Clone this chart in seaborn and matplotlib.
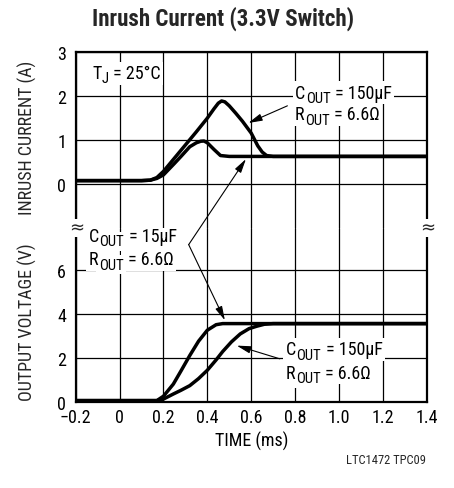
import matplotlib
matplotlib.use("Agg")
import matplotlib.pyplot as plt
import seaborn as sns
import pandas as pd
from matplotlib import font_manager

# ---- data ----
t_cur_15 = [-0.2, 0.10, 0.14, 0.17, 0.20, 0.25, 0.28, 0.32, 0.35, 0.37, 0.385, 0.40, 0.43, 0.46, 0.50, 1.40]
i_cur_15 = [0.07, 0.07, 0.08, 0.12, 0.20, 0.46, 0.62, 0.84, 0.93, 0.965, 0.97, 0.93, 0.78, 0.64, 0.62, 0.62]
t_cur_150 = [-0.2, 0.10, 0.14, 0.17, 0.20, 0.25, 0.30, 0.35, 0.40, 0.43, 0.45, 0.465, 0.48, 0.50, 0.53, 0.56, 0.60, 0.63, 0.65, 0.67, 0.70, 1.40]
i_cur_150 = [0.07, 0.07, 0.08, 0.14, 0.28, 0.58, 0.88, 1.18, 1.49, 1.70, 1.83, 1.88, 1.86, 1.77, 1.60, 1.42, 1.15, 0.86, 0.72, 0.64, 0.62, 0.62]
t_v_15 = [-0.2, 0.17, 0.20, 0.245, 0.28, 0.32, 0.36, 0.40, 0.44, 0.47, 0.50, 1.40]
v_v_15 = [0.05, 0.05, 0.25, 0.80, 1.40, 2.10, 2.75, 3.25, 3.50, 3.55, 3.55, 3.55]
t_v_150 = [-0.2, 0.17, 0.20, 0.245, 0.28, 0.32, 0.36, 0.40, 0.44, 0.47, 0.51, 0.55, 0.59, 0.625, 0.66, 0.70, 1.40]
v_v_150 = [0.05, 0.05, 0.12, 0.35, 0.52, 0.73, 1.05, 1.43, 1.90, 2.28, 2.72, 3.08, 3.32, 3.43, 3.52, 3.55, 3.55]
x_ticks = [-0.2, 0.0, 0.2, 0.4, 0.6, 0.8, 1.0, 1.2, 1.4]
x_ticklabels = ["\u22120.2", "0", "0.2", "0.4", "0.6", "0.8", "1.0", "1.2", "1.4"]
i_ticks = [0, 1, 2, 3]
v_ticks = [0, 2, 4, 6]

sns.set_theme(style="white")
names = {f.name for f in font_manager.fontManager.ttflist}
PREF = ["Roboto Condensed", "Liberation Sans Narrow", "Archivo Narrow", "PT Sans Narrow",
        "Fira Sans Condensed", "IBM Plex Sans Condensed", "Barlow Semi Condensed",
        "Encode Sans Condensed", "Open Sans Condensed"]
FONT = next((n for n in PREF if n in names), "Liberation Sans")
NARROW = FONT != "Liberation Sans"
plt.rcParams["font.family"] = [FONT, "DejaVu Sans"]
K = 1.0 if NARROW else 0.8

W, H = 454, 489
fig = plt.figure(figsize=(W / 100, H / 100), dpi=100)
fig.patch.set_facecolor("white")

L, R = 75.7, 426.7
TOP, BRK, BOT = 52.7, 228.7, 402.7
ax_bot = fig.add_axes([L / W, 1 - BOT / H, (R - L) / W, (BOT - BRK) / H])
ax_top = fig.add_axes([L / W, 1 - BRK / H, (R - L) / W, (BRK - TOP) / H])

LW = 2.5
df_c15 = pd.DataFrame({"t": t_cur_15, "v": i_cur_15})
df_c150 = pd.DataFrame({"t": t_cur_150, "v": i_cur_150})
df_v15 = pd.DataFrame({"t": t_v_15, "v": v_v_15})
df_v150 = pd.DataFrame({"t": t_v_150, "v": v_v_150})
for ax, dfs in ((ax_top, (df_c15, df_c150)), (ax_bot, (df_v15, df_v150))):
    for d in dfs:
        sns.lineplot(data=d, x="t", y="v", ax=ax, color="black", lw=LW,
                     sort=False, estimator=None, solid_capstyle="butt",
                     solid_joinstyle="round", zorder=3)

FS = 13 * K
ax_top.set_ylim(-1.0, 3.0)
ax_bot.set_ylim(0, 174 / 22)
for ax in (ax_top, ax_bot):
    ax.set_xlim(-0.2, 1.4)
    ax.patch.set_visible(False)
    ax.set_xlabel("")
    ax.set_ylabel("")
    ax.grid(True, color="black", lw=0.9)
    ax.tick_params(length=0, labelsize=FS, colors="black", pad=7)
    for s in ax.spines.values():
        s.set_color("black")
        s.set_linewidth(1.6)
ax_top.set_yticks(i_ticks)
ax_top.set_yticklabels([str(v) for v in i_ticks])
ax_bot.set_yticks(v_ticks)
ax_bot.set_yticklabels([str(v) for v in v_ticks])
ax_top.set_xticks(x_ticks)
ax_top.set_xticklabels([])
ax_bot.set_xticks(x_ticks)
ax_bot.set_xticklabels(x_ticklabels)
ax_top.spines["bottom"].set_visible(False)
ax_bot.spines["top"].set_visible(False)
ax_bot.tick_params(axis="x", pad=4.2)

# axis labels, title, footer
ax_bot.set_xlabel("TIME (ms)", fontsize=FS, color="black", labelpad=4)
fig.text(27 / W, 1 - 138 / H, "INRUSH CURRENT (A)", rotation=90, ha="center", va="center",
         fontsize=FS)
fig.text(27 / W, 1 - 322 / H, "OUTPUT VOLTAGE (V)", rotation=90, ha="center", va="center",
         fontsize=FS)
fig.text(223 / W, 1 - 19 / H, "Inrush Current (3.3V Switch)", ha="center", va="center",
         fontsize=16.5 * K, fontweight="bold")
fig.text(426 / W, 1 - 461 / H, "LTC1472 TPC09", ha="right", va="center", fontsize=9 * K)

# break marks
for xf in (0.0, 1.0):
    ax_top.text(xf + 0.004, 0.0, "\u2248", transform=ax_top.transAxes, ha="center", va="center",
                fontsize=13, zorder=6, clip_on=False, family=["DejaVu Sans"],
                bbox=dict(facecolor="white", edgecolor="none", pad=0.1))

box = dict(facecolor="white", edgecolor="none", pad=1.8)


def sub_line(ax, x, y, main, sub, rest):
    """Text with a large subscript, built from pieces; white background first."""
    for color, bb, z in (("white", box, 3.8), ("black", None, 4.0)):
        t1 = ax.text(x, y, main, fontsize=FS, ha="left", va="baseline", color=color,
                     bbox=bb, zorder=z)
        t2 = ax.annotate(sub, xy=(1, 0), xycoords=t1, xytext=(0.3, -2.4),
                         textcoords="offset points", fontsize=FS * 0.82, ha="left",
                         va="bottom", color=color, bbox=bb, zorder=z)
        ax.annotate(rest, xy=(1, 0), xycoords=(t2, t1), xytext=(0.3, 0),
                    textcoords="offset points", fontsize=FS, ha="left", va="bottom",
                    color=color, bbox=bb, zorder=z)


sub_line(ax_top, -0.125, 2.40, "T", "J", " = 25°C")
sub_line(ax_top, 0.800, 1.95, "C", "OUT", " = 150µF")
sub_line(ax_top, 0.800, 1.46, "R", "OUT", " = 6.6Ω")
sub_line(ax_bot, -0.140, 7.30, "C", "OUT", " = 15µF")
sub_line(ax_bot, -0.140, 6.24, "R", "OUT", " = 6.6Ω")
sub_line(ax_bot, 0.758, 2.15, "C", "OUT", " = 150µF")
sub_line(ax_bot, 0.758, 1.09, "R", "OUT", " = 6.6Ω")

ap = dict(arrowstyle="-|>,head_length=0.7,head_width=0.18", color="black", lw=0.8,
          shrinkA=0, shrinkB=0)
ax_top.annotate("", xy=(0.587, 1.38), xytext=(0.765, 1.77), arrowprops=ap, zorder=5)
ax_bot.annotate("", xy=(0.534, 2.55), xytext=(0.73, 1.95), arrowprops=ap, zorder=5)
ax_bot.annotate("", xy=(0.48, 3.7), xytext=(0.315, 7.14), arrowprops=ap, zorder=5)
ax_top.annotate("", xy=(0.576, 0.56), xycoords=ax_top.transData,
                xytext=(0.315, 7.14), textcoords=ax_bot.transData,
                arrowprops=ap, annotation_clip=False, zorder=5)

fig.savefig("out.png", dpi=100, facecolor="white")
